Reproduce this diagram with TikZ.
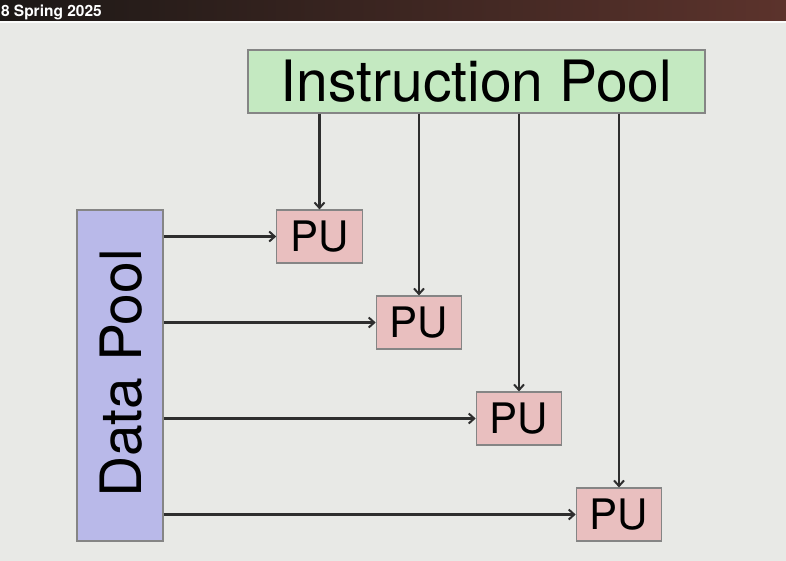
\documentclass[tikz,border=0pt]{standalone}
\usepackage{fontspec}
\setmainfont{TeX Gyre Heros}
\usetikzlibrary{arrows.meta,calc}
\definecolor{bgc}{HTML}{E8E9E6}
\definecolor{ipfill}{HTML}{C4E9C1}
\definecolor{dpfill}{HTML}{B9B9E9}
\definecolor{pufill}{HTML}{E9BFBF}
\definecolor{edgec}{HTML}{858585}
\definecolor{arrc}{HTML}{2E2E2E}
\definecolor{banL}{HTML}{1C1816}
\definecolor{banR}{HTML}{5C332C}
\tikzset{
  pool/.style={draw=edgec, line width=1.1pt, inner sep=0pt, font=\fontsize{57}{60}\selectfont},
  pubox/.style={draw=edgec, line width=1.1pt, fill=pufill, inner sep=0pt,
    minimum width=85.5pt, minimum height=53pt, font=\fontsize{42}{46}\selectfont},
  conn/.style={draw=arrc, line width=2.2pt, -{Straight Barb[length=5.5pt,width=10pt,line width=2pt]}}
}
\begin{document}
\begin{tikzpicture}[x=1pt,y=-1pt]
\useasboundingbox (0,0) rectangle (786,560);
\fill[bgc] (-3,-3) rectangle (789,563);
\shade[left color=banL, right color=banR] (-3,-3) rectangle (789,21);
\fill[white!85!bgc] (-3,21) rectangle (789,22.5);
\node[anchor=base east, text=white, font=\bfseries\fontsize{15.5}{17}\selectfont, inner sep=0pt] (hdr) at (102,16.5) {8 Spring 2025};

\node[pool, fill=ipfill, minimum width=457pt, minimum height=63pt] (ip) at (476.5,81.5) {Instruction Pool};
\node[pool, fill=dpfill, minimum width=86pt, minimum height=331pt] (dp) at (120,375.5) {};
\node[font=\fontsize{57}{60}\selectfont, rotate=90, inner sep=0pt] (dptext) at (121,373.5) {Data Pool};

\node[pubox] (pu1) at (319.5,236.5) {PU};
\node[pubox] (pu2) at (419,322.5) {PU};
\node[pubox] (pu3) at (519,418.5) {PU};
\node[pubox] (pu4) at (619,514.5) {PU};

\foreach \p in {pu1,pu2,pu3,pu4}{
  \draw[conn] (ip.south -| \p.north) -- (\p.north);
  \draw[conn] (dp.east |- \p.west) -- (\p.west);
}
\end{tikzpicture}
\end{document}
